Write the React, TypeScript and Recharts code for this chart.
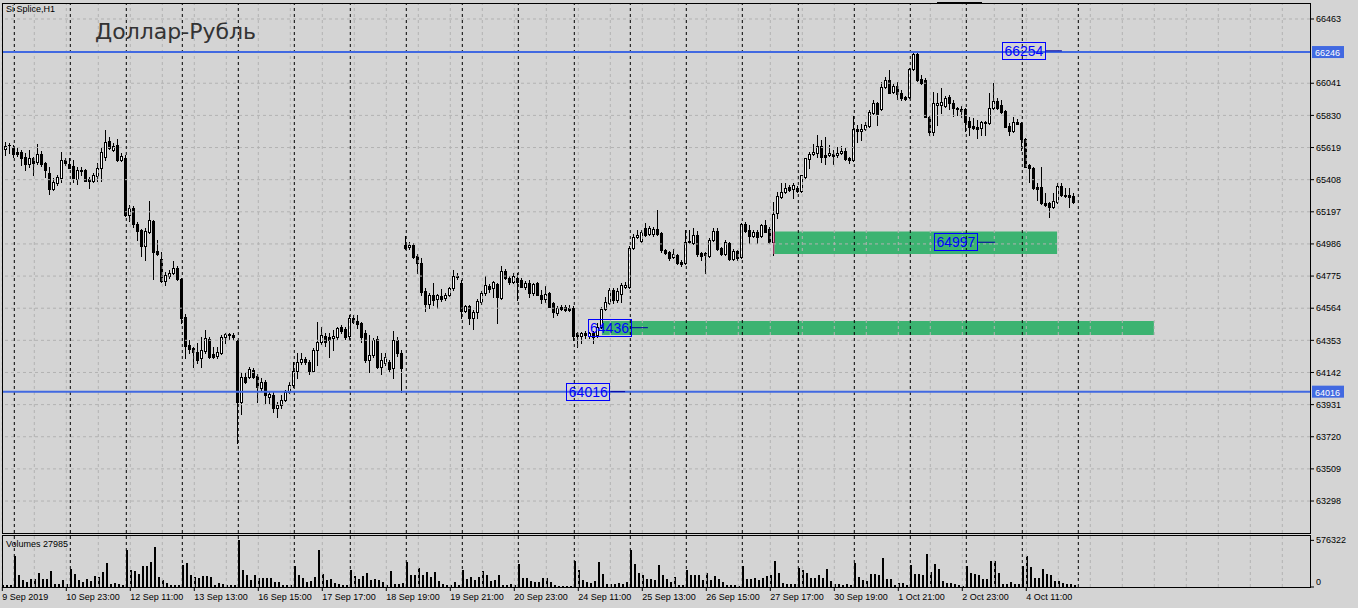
import React from "react";
import {
  ComposedChart,
  Bar,
  XAxis,
  YAxis,
  ReferenceLine,
  ReferenceArea,
  ReferenceDot,
} from "recharts";

const BG = "#d4d4d4";
const GRID = "#b2b2b2";
const FONT = "'Liberation Sans', Arial, sans-serif";

// Si Splice H1, 9 Sep 2019 21:00 .. 4 Oct 2019 23:00 (one row per trading day)
const opens = [
  65603, 65610, 65636,
  65616, 65590, 65590, 65557, 65511, 65551, 65524, 65577, 65518, 65452, 65347, 65386, 65419, 65537,
  65511, 65498, 65413, 65472, 65472, 65413, 65400, 65432, 65485, 65557, 65662, 65603, 65636, 65537,
  65551, 65176, 65222, 65117, 65078, 64973, 65065, 65137, 64940, 64887, 64743, 64776, 64795, 64828,
  64756, 64507, 64323, 64303, 64277, 64237, 64283, 64362, 64264, 64251, 64270, 64375, 64388, 64388,
  64349, 63949, 64113, 64113, 64159, 64119, 64040, 64080, 63981, 63994, 63909, 63929, 63962, 64014,
  64060, 64152, 64211, 64231, 64211, 64152, 64290, 64342, 64382, 64375, 64369, 64375, 64441, 64428,
  64382, 64500, 64480, 64467, 64402, 64224, 64257, 64362, 64178, 64205, 64211, 64172, 64356, 64270,
  64980, 64966, 64979, 64907, 64861, 64677, 64592, 64651, 64625, 64645, 64631, 64651, 64697, 64776,
  64730, 64546, 64579, 64500, 64539, 64605, 64664, 64710, 64697, 64723, 64631, 64809, 64762, 64736,
  64762, 64750, 64704, 64730, 64664, 64730, 64651, 64625, 64664, 64599, 64533, 64572, 64572, 64566,
  64566, 64402, 64382, 64402, 64382, 64402, 64388, 64441, 64559, 64599, 64684, 64618, 64658, 64704,
  64704, 64960, 65032, 65005, 65091, 65052, 65052, 65084, 65058, 64947, 64933, 64900, 64914, 64868,
  64861, 64999, 64992, 65045, 64927, 64927, 64907, 65012, 65071, 64960, 64920, 64992, 64887, 64940,
  64900, 65117, 65078, 65039, 65065, 65039, 65111, 65084, 64999, 65190, 65295, 65327, 65360, 65347,
  65354, 65334, 65426, 65544, 65577, 65583, 65629, 65570, 65570, 65577, 65570, 65583, 65597, 65551,
  65537, 65741, 65728, 65741, 65761, 65846, 65912, 65872, 66017, 66063, 65984, 66023, 65977, 65951,
  65951, 66135, 66233, 66069, 66063, 65820, 65721, 65899, 65899, 65892, 65951, 65912, 65879, 65872,
  65872, 65794, 65761, 65754, 65748, 65780, 65780, 65879, 65925, 65899, 65859, 65761, 65728, 65787,
  65780, 65675, 65505, 65485, 65360, 65360, 65255, 65255, 65229, 65262, 65367, 65308, 65308, 65301,
];

const highs = [
  65616, 65656, 65649,
  65636, 65623, 65603, 65583, 65603, 65557, 65643, 65597, 65524, 65491, 65419, 65439, 65590, 65551,
  65551, 65537, 65491, 65491, 65478, 65426, 65452, 65518, 65616, 65734, 65689, 65649, 65675, 65583,
  65570, 65242, 65235, 65130, 65084, 65091, 65268, 65143, 65012, 64933, 64802, 64815, 64874, 64841,
  64762, 64526, 64356, 64309, 64336, 64375, 64421, 64375, 64309, 64309, 64388, 64402, 64402, 64402,
  64356, 64146, 64139, 64178, 64172, 64132, 64106, 64093, 64014, 64014, 63949, 63994, 64027, 64080,
  64211, 64270, 64270, 64244, 64224, 64303, 64474, 64441, 64402, 64402, 64421, 64441, 64454, 64441,
  64520, 64520, 64520, 64474, 64421, 64388, 64369, 64382, 64270, 64270, 64224, 64415, 64375, 64290,
  65039, 64999, 64992, 64920, 64894, 64697, 64664, 64730, 64658, 64691, 64664, 64704, 64815, 64795,
  64750, 64585, 64585, 64553, 64625, 64677, 64776, 64723, 64743, 64730, 64841, 64822, 64776, 64795,
  64795, 64762, 64743, 64750, 64730, 64736, 64684, 64710, 64671, 64605, 64579, 64585, 64585, 64585,
  64579, 64408, 64408, 64415, 64408, 64415, 64467, 64572, 64638, 64697, 64697, 64697, 64730, 64736,
  64973, 65052, 65078, 65078, 65124, 65104, 65098, 65209, 65065, 64953, 64940, 64953, 64920, 64881,
  65078, 65078, 65091, 65071, 64933, 64933, 65025, 65091, 65091, 64966, 65012, 64999, 64953, 64947,
  65124, 65130, 65111, 65078, 65078, 65117, 65143, 65098, 65262, 65327, 65386, 65386, 65373, 65386,
  65367, 65439, 65551, 65590, 65643, 65702, 65669, 65689, 65636, 65603, 65623, 65629, 65616, 65557,
  65826, 65767, 65774, 65787, 65866, 65931, 65918, 66050, 66083, 66128, 66036, 66050, 65997, 65957,
  66142, 66254, 66247, 66096, 66076, 65827, 65984, 65977, 66010, 65958, 65964, 65931, 65886, 65892,
  65879, 65820, 65813, 65800, 65794, 65794, 65977, 66043, 65944, 65931, 65866, 65781, 65820, 65807,
  65787, 65682, 65511, 65492, 65386, 65491, 65321, 65262, 65321, 65386, 65386, 65354, 65354, 65321,
];

const lows = [
  65557, 65570, 65583,
  65557, 65564, 65505, 65472, 65492, 65439, 65511, 65498, 65426, 65314, 65340, 65373, 65393, 65505,
  65485, 65393, 65380, 65439, 65400, 65354, 65393, 65400, 65400, 65537, 65610, 65597, 65531, 65531,
  65170, 65137, 65098, 65012, 64907, 64881, 65058, 64756, 64914, 64736, 64717, 64763, 64789, 64750,
  64467, 64237, 64270, 64178, 64205, 64178, 64270, 64237, 64237, 64237, 64264, 64336, 64362, 64356,
  63679, 63870, 64073, 64106, 64106, 63949, 64021, 63942, 63942, 63883, 63850, 63909, 63955, 64008,
  64047, 64106, 64198, 64198, 64132, 64146, 64192, 64329, 64316, 64244, 64290, 64362, 64402, 64362,
  64356, 64467, 64434, 64342, 64211, 64146, 64244, 64172, 64132, 64192, 64146, 64106, 64251, 64014,
  64953, 64953, 64894, 64795, 64651, 64546, 64566, 64585, 64566, 64612, 64618, 64645, 64684, 64756,
  64500, 64539, 64461, 64428, 64500, 64592, 64651, 64671, 64638, 64467, 64625, 64756, 64723, 64730,
  64618, 64704, 64691, 64638, 64651, 64651, 64599, 64605, 64572, 64507, 64520, 64553, 64546, 64546,
  64356, 64310, 64336, 64369, 64369, 64336, 64375, 64434, 64553, 64592, 64599, 64605, 64605, 64697,
  64697, 64953, 65025, 64999, 65038, 65045, 65038, 65045, 64933, 64920, 64881, 64894, 64854, 64841,
  64854, 64992, 64986, 64907, 64881, 64795, 64901, 65005, 64947, 64914, 64914, 64881, 64881, 64881,
  64894, 65065, 64992, 65032, 64992, 65032, 65065, 64992, 64914, 65157, 65288, 65321, 65334, 65288,
  65327, 65327, 65419, 65485, 65570, 65557, 65524, 65511, 65564, 65511, 65557, 65577, 65537, 65518,
  65531, 65656, 65669, 65734, 65754, 65840, 65767, 65866, 66010, 65977, 65977, 65938, 65931, 65931,
  65945, 66128, 66056, 66036, 65820, 65702, 65702, 65767, 65846, 65886, 65872, 65826, 65833, 65820,
  65728, 65702, 65741, 65682, 65702, 65702, 65774, 65872, 65872, 65846, 65754, 65702, 65721, 65774,
  65603, 65492, 65393, 65347, 65275, 65249, 65235, 65163, 65222, 65255, 65301, 65295, 65229, 65255,
];

const closes = [
  65570, 65629, 65633,
  65577, 65577, 65551, 65511, 65551, 65518, 65577, 65511, 65472, 65347, 65393, 65426, 65537, 65518,
  65485, 65419, 65472, 65465, 65400, 65400, 65439, 65485, 65590, 65656, 65616, 65629, 65537, 65564,
  65177, 65222, 65117, 65071, 64973, 65071, 65143, 64934, 64920, 64743, 64782, 64795, 64828, 64756,
  64500, 64316, 64296, 64277, 64224, 64290, 64369, 64244, 64244, 64277, 64375, 64395, 64395, 64375,
  63949, 64113, 64080, 64165, 64113, 64047, 64080, 63994, 64001, 63909, 63929, 63962, 64014, 64060,
  64152, 64211, 64231, 64211, 64152, 64290, 64342, 64388, 64342, 64356, 64382, 64434, 64415, 64375,
  64500, 64474, 64461, 64375, 64224, 64257, 64356, 64178, 64224, 64244, 64165, 64356, 64270, 64172,
  64960, 64979, 64900, 64861, 64671, 64592, 64651, 64618, 64651, 64625, 64651, 64697, 64776, 64769,
  64546, 64579, 64500, 64539, 64612, 64664, 64717, 64691, 64736, 64638, 64809, 64762, 64736, 64776,
  64736, 64704, 64730, 64664, 64723, 64651, 64625, 64658, 64572, 64539, 64566, 64559, 64553, 64553,
  64382, 64382, 64402, 64388, 64402, 64375, 64441, 64559, 64605, 64684, 64618, 64677, 64717, 64717,
  64960, 65032, 65045, 65065, 65045, 65091, 65084, 65052, 64947, 64927, 64894, 64920, 64861, 64854,
  64999, 65005, 65045, 64920, 64907, 64914, 65012, 65071, 64953, 64920, 64999, 64887, 64940, 64894,
  65117, 65071, 65039, 65065, 65032, 65111, 65065, 64999, 65183, 65301, 65327, 65354, 65341, 65373,
  65334, 65439, 65551, 65577, 65590, 65629, 65557, 65557, 65583, 65564, 65583, 65597, 65544, 65537,
  65741, 65728, 65741, 65767, 65853, 65912, 65840, 66017, 66063, 65977, 66023, 65971, 65944, 65938,
  66135, 66233, 66063, 66043, 65820, 65721, 65912, 65912, 65918, 65944, 65912, 65879, 65872, 65859,
  65787, 65754, 65748, 65741, 65787, 65787, 65879, 65925, 65879, 65853, 65754, 65728, 65787, 65774,
  65675, 65492, 65485, 65354, 65347, 65255, 65242, 65229, 65268, 65367, 65308, 65301, 65295, 65262,
];

const volumes = [
  20600, 20600, 20600,
  378800, 144100, 90600, 61800, 102900, 102900, 172900, 102900, 102900, 193500, 32900, 32900, 90600, 32900,
  218200, 156400, 82300, 61800, 102900, 74100, 131700, 123500, 181100, 292300, 32900, 49400, 41200, 20600,
  461100, 205900, 197600, 164700, 255300, 255300, 308800, 494000, 123500, 90600, 49400, 20600, 20600, 20600,
  267600, 296400, 144100, 123500, 115300, 131700, 131700, 123500, 28800, 49400, 32900, 20600, 20600, 20600,
  576322, 205900, 144100, 82300, 152300, 111200, 111200, 111200, 111200, 61800, 61800, 28800, 20600, 28800,
  255300, 144100, 115300, 61800, 74100, 123500, 452900, 156400, 82300, 102900, 53500, 32900, 28800, 28800,
  205900, 131700, 102900, 131700, 172900, 82300, 98800, 82300, 61800, 20600, 197600, 41200, 41200, 49400,
  308800, 152300, 152300, 234700, 144100, 189400, 123500, 185300, 70000, 32900, 28800, 20600, 61800, 28800,
  205900, 102900, 123500, 90600, 123500, 193500, 152300, 74100, 82300, 152300, 28800, 20600, 41200, 20600,
  280000, 111200, 111200, 74100, 61800, 61800, 111200, 111200, 61800, 20600, 12400, 12400, 12400, 12400,
  321100, 214100, 82300, 61800, 53500, 74100, 308800, 164700, 41200, 41200, 41200, 49400, 41200, 61800,
  461100, 288200, 172900, 144100, 98800, 102900, 90600, 267600, 152300, 102900, 61800, 123500, 20600, 20600,
  205900, 144100, 144100, 152300, 90600, 172900, 90600, 135900, 102900, 61800, 28800, 28800, 20600, 12400,
  255300, 102900, 102900, 115300, 82300, 115300, 131700, 144100, 317000, 172900, 49400, 41200, 32900, 32900,
  238800, 205900, 172900, 111200, 111200, 152300, 111200, 218200, 74100, 32900, 32900, 20600, 41200, 28800,
  300500, 123500, 82300, 74100, 156400, 156400, 144100, 358200, 102900, 102900, 28800, 49400, 49400, 28800,
  267600, 164700, 164700, 144100, 403500, 185300, 288200, 226400, 74100, 53500, 53500, 41200, 20600, 12400,
  255300, 172900, 156400, 152300, 94700, 94700, 317000, 317000, 172900, 41200, 41200, 61800, 32900, 32900,
  255300, 378800, 247000, 115300, 115300, 226400, 164700, 144100, 74100, 74100, 49400, 32900, 32900, 27985,
];

const priceTicks = [
  66463, 66041, 65830, 65619, 65408, 65197, 64986, 64775, 64564, 64353, 64142,
  63931, 63720, 63509, 63298,
];

const timeLabels = [
  "9 Sep 2019", "10 Sep 23:00", "12 Sep 11:00", "13 Sep 13:00", "16 Sep 15:00",
  "17 Sep 17:00", "18 Sep 19:00", "19 Sep 21:00", "20 Sep 23:00", "24 Sep 11:00",
  "25 Sep 13:00", "26 Sep 15:00", "27 Sep 17:00", "30 Sep 19:00", "1 Oct 21:00",
  "2 Oct 23:00", "4 Oct 11:00",
];

// horizontal levels with their tags on the price scale
const levels = [66246, 64016];

// price label objects: text, price, box centre bar, leader line start/end bar
const noteTexts = ["66254", "64997", "64436", "64016"];
const notePrices = [66254, 64997, 64436, 64016];
const noteCenters = [255.4, 238.4, 151.8, 146.5];
const noteLineFrom = [260.9, 243.9, 157.2, 152.0];
const noteLineTo = [264.9, 248.2, 161.4, 155.7];

// green zones
const zoneFrom = [192.9, 149.9];
const zoneTo = [263.7, 287.9];
const zoneTop = [65067, 64480];
const zoneBottom = [64920, 64388];

const X_DOMAIN: [number, number] = [-0.075, 326.925];
const PRICE_DOMAIN: [number, number] = [63088, 66568];
const VOL_DOMAIN: [number, number] = [0, 630000];

const BARS_PER_DAY = 14;
const FIRST_DAY_BAR = 3;
const labelBars = timeLabels.map((_, k) => k * 16);
const daySeps = Array.from({ length: 20 }, (_, k) => FIRST_DAY_BAR + k * BARS_PER_DAY);
const gridBars = Array.from({ length: 41 }, (_, k) => k * 8);

const candles = closes.map((c, i) => ({
  i,
  o: opens[i],
  h: highs[i],
  l: lows[i],
  c,
  v: volumes[i],
}));

function CandleShape(props: any) {
  const { x, y, width, height, payload } = props;
  if (x == null || payload == null) return null;
  const { o, h, l, c } = payload;
  const px = Math.floor(x + width / 2);
  const k = h > l ? height / (h - l) : 0;
  const yo = Math.round(y + (h - o) * k);
  const yc = Math.round(y + (h - c) * k);
  const top = Math.min(yo, yc);
  const bot = Math.max(yo, yc);
  const wTop = Math.round(y);
  const wBot = Math.round(y + height);
  return (
    <g>
      <rect x={px} y={wTop} width={1} height={Math.max(1, wBot - wTop + 1)} fill="#000" />
      <rect x={px - 1} y={top} width={3} height={bot - top + 1} fill="#000" />
      {c > o && bot - top >= 2 && (
        <rect x={px} y={top + 1} width={1} height={bot - top - 1} fill="#fff" />
      )}
    </g>
  );
}

function VolumeShape(props: any) {
  const { x, y, width, height } = props;
  if (x == null) return null;
  const px = Math.floor(x + width / 2);
  const t = Math.round(y);
  const b = Math.round(y + height);
  return <rect x={px} y={t} width={2} height={Math.max(1, b - t)} fill="#000" />;
}

function LevelTag(props: any) {
  const { cx, cy, text } = props;
  if (cx == null) return null;
  return (
    <g>
      <rect x={cx + 2} y={cy - 6} width={32} height={12} fill="#4169e1" />
      <text
        x={cx + 5}
        y={cy + 4}
        fontSize={9}
        fontFamily={FONT}
        fill="#fff"
      >
        {text}
      </text>
    </g>
  );
}

function NoteBox(props: any) {
  const { cx, cy, text } = props;
  if (cx == null) return null;
  return (
    <g>
      <rect
        x={Math.round(cx - 22) + 0.5}
        y={Math.round(cy - 9) + 0.5}
        width={43}
        height={17}
        fill="none"
        stroke="#0000ff"
      />
      <text
        x={cx}
        y={cy + 5}
        fontSize={14}
        fontFamily={FONT}
        fill="#0000ff"
        textAnchor="middle"
      >
        {text}
      </text>
    </g>
  );
}

function TimeTick(props: any) {
  const { x, y, payload } = props;
  const k = labelBars.indexOf(payload.value);
  if (k < 0) return null;
  return (
    <text x={x} y={y + 7} fontSize={9} fontFamily={FONT} fill="#000">
      {timeLabels[k]}
    </text>
  );
}

function VolTick(props: any) {
  const { x, y, payload } = props;
  return (
    <text
      x={x}
      y={payload.value === 0 ? y - 2 : y + 3}
      fontSize={9}
      fontFamily={FONT}
      fill="#000"
    >
      {payload.value}
    </text>
  );
}

export default function App() {
  return (
    <div
      style={{
        position: "absolute",
        left: 0,
        top: 0,
        width: 1358,
        height: 608,
        background: BG,
        overflow: "hidden",
        fontFamily: FONT,
      }}
    >
      <div style={{ position: "absolute", left: 0, top: 0 }}>
        <ComposedChart
          width={1358}
          height={533}
          data={candles}
          margin={{ top: 3, right: 0, bottom: 0, left: 2 }}
        >
          <XAxis
            type="number"
            dataKey="i"
            domain={X_DOMAIN}
            allowDataOverflow
            hide
          />
          <YAxis
            orientation="right"
            type="number"
            domain={PRICE_DOMAIN}
            allowDataOverflow
            ticks={priceTicks}
            interval={0}
            width={48}
            axisLine={false}
            tickSize={4}
            tickMargin={2}
            tickLine={{ stroke: "#000" }}
            tick={{ fill: "#000", fontSize: 9, fontFamily: FONT }}
          />
          {priceTicks.map((p) => (
            <ReferenceLine key={"h" + p} y={p} stroke={GRID} strokeDasharray="3 3" />
          ))}
          {gridBars.map((b) => (
            <ReferenceLine key={"v" + b} x={b} stroke={GRID} strokeDasharray="3 3" />
          ))}
          {daySeps.map((b) => (
            <ReferenceLine key={"d" + b} x={b} stroke="#000" strokeDasharray="3 3" />
          ))}
          <Bar
            dataKey={(d: any) => [d.l, d.h]}
            barSize={3}
            shape={CandleShape}
            isAnimationActive={false}
          />
          {zoneFrom.map((x1, k) => (
            <ReferenceArea
              key={"z" + k}
              x1={x1}
              x2={zoneTo[k]}
              y1={zoneBottom[k]}
              y2={zoneTop[k]}
              fill="#3cb371"
              fillOpacity={1}
              stroke="none"
            />
          ))}
          <ReferenceLine
            segment={[
              { x: zoneFrom[0], y: zoneBottom[0] },
              { x: zoneFrom[0], y: zoneTop[0] },
            ]}
            stroke="#ff5aa0"
          />
          {levels.map((p) => (
            <ReferenceLine key={"l" + p} y={p} stroke="#4169e1" strokeWidth={2} />
          ))}
          {levels.map((p) => (
            <ReferenceDot
              key={"t" + p}
              x={X_DOMAIN[1]}
              y={p}
              r={0}
              shape={(s: any) => <LevelTag {...s} text={String(p)} />}
            />
          ))}
          {noteTexts.map((t, k) => (
            <ReferenceLine
              key={"nl" + k}
              segment={[
                { x: noteLineFrom[k], y: notePrices[k] },
                { x: noteLineTo[k], y: notePrices[k] },
              ]}
              stroke="#0000a0"
            />
          ))}
          {noteTexts.map((t, k) => (
            <ReferenceDot
              key={"nb" + k}
              x={noteCenters[k]}
              y={notePrices[k]}
              r={0}
              shape={(s: any) => <NoteBox {...s} text={t} />}
            />
          ))}
        </ComposedChart>
      </div>

      <div style={{ position: "absolute", left: 0, top: 530 }}>
        <ComposedChart
          width={1358}
          height={78}
          data={candles}
          margin={{ top: 6, right: 0, bottom: 0, left: 2 }}
        >
          <XAxis
            type="number"
            dataKey="i"
            domain={X_DOMAIN}
            allowDataOverflow
            ticks={labelBars}
            interval={0}
            height={21}
            axisLine={false}
            tickSize={4}
            tickMargin={2}
            tickLine={{ stroke: "#000" }}
            tick={TimeTick}
          />
          <YAxis
            orientation="right"
            type="number"
            domain={VOL_DOMAIN}
            allowDataOverflow
            ticks={[0, 576322]}
            interval={0}
            width={48}
            axisLine={false}
            tickSize={4}
            tickMargin={2}
            tickLine={{ stroke: "#000" }}
            tick={VolTick}
          />
          {gridBars.map((b) => (
            <ReferenceLine key={"vv" + b} x={b} stroke={GRID} strokeDasharray="3 3" />
          ))}
          {daySeps.map((b) => (
            <ReferenceLine key={"vd" + b} x={b} stroke="#000" strokeDasharray="3 3" />
          ))}
          <Bar
            dataKey="v"
            barSize={2}
            shape={VolumeShape}
            isAnimationActive={false}
          />
        </ComposedChart>
      </div>

      {/* panel frames */}
      <div
        style={{
          position: "absolute",
          left: 2,
          top: 3,
          width: 1309,
          height: 531,
          border: "1px solid #000",
          boxSizing: "border-box",
          pointerEvents: "none",
        }}
      />
      <div
        style={{
          position: "absolute",
          left: 2,
          top: 535,
          width: 1309,
          height: 53,
          border: "1px solid #000",
          boxSizing: "border-box",
          pointerEvents: "none",
        }}
      />
      {/* short object stub on the top edge */}
      <div
        style={{
          position: "absolute",
          left: 937,
          top: 2,
          width: 45,
          height: 2,
          background: "#000",
        }}
      />

      <div
        style={{
          position: "absolute",
          left: 6,
          top: 4,
          fontSize: 9,
          lineHeight: "10px",
          color: "#000",
        }}
      >
        Si Splice,H1
      </div>
      <div
        style={{
          position: "absolute",
          left: 95,
          top: 19,
          fontSize: 22,
          lineHeight: "26px",
          fontFamily: "'DejaVu Sans', sans-serif",
          color: "#333",
        }}
      >
        Доллар-Рубль
      </div>
      <div
        style={{
          position: "absolute",
          left: 6,
          top: 539,
          fontSize: 9,
          lineHeight: "10px",
          color: "#000",
        }}
      >
        Volumes 27985
      </div>
    </div>
  );
}
